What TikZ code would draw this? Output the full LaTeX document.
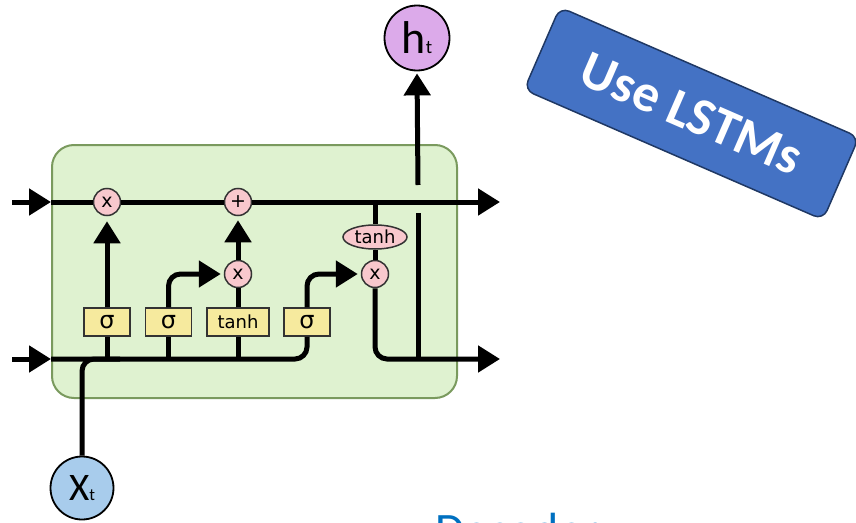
\documentclass[tikz,border=0pt]{standalone}
\usepackage{fontspec}
\setmainfont{DejaVu Sans}
\newfontfamily\calfont{Carlito}
\usetikzlibrary{arrows.meta,shapes.geometric}
\definecolor{cellfill}{RGB}{223,242,208}
\definecolor{cellline}{RGB}{122,154,94}
\definecolor{pinkc}{RGB}{248,200,205}
\definecolor{yellowc}{RGB}{246,234,158}
\definecolor{bluec}{RGB}{168,204,236}
\definecolor{purplec}{RGB}{220,170,234}
\definecolor{lstmblue}{RGB}{68,114,196}
\definecolor{lstmborder}{RGB}{31,56,100}
\definecolor{decblue}{RGB}{0,112,192}
\begin{document}
\begin{tikzpicture}[x=1pt,y=-1pt,
  wire/.style={line width=5pt},
  flow/.style={wire,-{Triangle[length=22pt,width=26pt]}},
  opc/.style={circle,draw=black!80,line width=1.5pt,fill=pinkc,minimum size=27pt,inner sep=0pt,font=\fontsize{19}{19}\selectfont},
  gate/.style={rectangle,draw=black!80,line width=1.5pt,fill=yellowc,minimum width=46pt,minimum height=28pt,inner sep=0pt,font=\fontsize{24}{24}\selectfont},
  tgate/.style={gate,minimum width=62pt,font=\fontsize{18}{18}\selectfont},
  io/.style={circle,draw=black,line width=1.8pt,inner sep=0pt,font=\calfont},
]
\path[use as bounding box] (0,0) rectangle (856,522);
\clip (0,0) rectangle (856,522);

% cell body
\node[draw=cellline,fill=cellfill,line width=2pt,rounded corners=22pt,
      minimum width=405pt,minimum height=253pt,inner sep=0pt] (cell) at (254.5,271.5) {};

% operation circles
\node[opc] (m1) at (107,202) {x};
\node[opc] (p1) at (238,202) {+};
\node[opc] (m2) at (238,274) {x};
\node[opc] (m3) at (375,274) {x};
\node[ellipse,draw=black!80,line width=1.5pt,fill=pinkc,minimum width=64pt,minimum height=24pt,inner sep=0pt,
      font=\fontsize{18}{18}\selectfont] (te) at (375,237) {tanh};

% gates
\node[gate] (s1) at (107,322) {σ};
\node[gate] (s2) at (168.5,322) {σ};
\node[tgate] (t1) at (238,322) {tanh};
\node[gate] (s4) at (307,322) {σ};

% inputs / outputs
\node[io,fill=purplec,minimum size=65pt] (ht) at (417,38)
  {{\fontsize{46}{46}\selectfont h}{\fontsize{19}{19}\selectfont t}};
\node[io,fill=bluec,minimum size=63pt] (xt) at (82,488)
  {{\fontsize{39}{39}\selectfont X}{\fontsize{17}{17}\selectfont t}};

% coordinates
\coordinate (cL) at (12,202);
\coordinate (cB) at (51,202);
\coordinate (cE) at (500,202);
\coordinate (tj) at (375,202);
\coordinate (hL) at (12,359);
\coordinate (hB) at (51,359);
\coordinate (hE) at (500,359);
\coordinate (xj) at (120,359);
\coordinate (b1) at (107,359);
\coordinate (b2) at (168.5,359);
\coordinate (b3) at (238,359);
\coordinate (hj) at (418,359);
\coordinate (hgB) at (418,213);
\coordinate (hgT) at (418,185);

% cell state line
\draw[flow] (cL) -- (cB);
\draw[wire] (cB) -- (m1.west);
\draw[wire] (m1.east) -- (p1.west);
\draw[flow] (p1.east) -- (cE);

% hidden line
\draw[flow] (hL) -- (hB);
\draw[wire,rounded corners=12pt] (hB) -| (s4.south);
\draw[wire,rounded corners=12pt] (xt.north) |- (xj);
\draw[wire] (b1) -- (s1.south);
\draw[wire] (b2) -- (s2.south);
\draw[wire] (b3) -- (t1.south);

% gate connections
\draw[flow,shorten >=5pt] (s1.north) -- (m1.south);
\draw[flow,shorten >=3pt,rounded corners=12pt] (s2.north) |- (m2.west);
\draw[wire] (t1.north) -- (m2.south);
\draw[flow,shorten >=4pt] (m2.north) -- (p1.south);
\draw[flow,shorten >=3pt,rounded corners=12pt] (s4.north) |- (m3.west);
\draw[wire] (tj) -- (te.north);
\draw[wire] (te.south) -- (m3.north);

% output
\draw[flow,rounded corners=12pt] (m3.south) |- (hE);
\draw[wire] (hj) -- (hgB);
\draw[flow,shorten >=2pt] (hgT) -- (ht.south);

% label box
\node[rotate=-23.5,fill=lstmblue,draw=lstmborder,line width=1.5pt,rounded corners=10pt,
      minimum width=326pt,minimum height=90pt,inner sep=0pt,text=white,
      font=\calfont\bfseries\fontsize{53}{53}\selectfont] (use) at (691.5,113.5) {Use LSTMs};

% cut-off caption
\node[anchor=base west,inner sep=0pt,text=decblue,font=\calfont\fontsize{48}{48}\selectfont] (dec) at (435,546) {Decoder};
\end{tikzpicture}
\end{document}
